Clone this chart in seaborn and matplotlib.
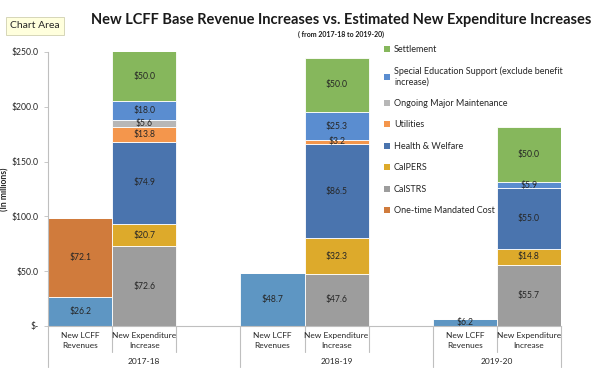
import numpy as np
import pandas as pd
import seaborn as sns
import matplotlib.pyplot as plt
import matplotlib.transforms as mtransforms
from matplotlib.patches import Patch

# data ($ millions)
years = ["2017-18", "2018-19", "2019-20"]
slot_labels = ["New LCFF\nRevenues", "New Expenditure\nIncrease"]

new_lcff = [26.2, 48.7, 6.2]
one_time = [72.1, 0.0, 0.0]

calstrs = [72.6, 47.6, 55.7]
calpers = [20.7, 32.3, 14.8]
health_welfare = [74.9, 86.5, 55.0]
utilities = [13.8, 3.2, 0.0]
maintenance = [5.6, 0.0, 0.0]
special_ed = [18.0, 25.3, 5.9]
settlement = [50.0, 50.0, 50.0]

SPED = "Special Education Support (exclude benefit\nincrease)"
# top of stack first (same as legend order)
components = ["Settlement", SPED, "Ongoing Major Maintenance", "Utilities",
              "Health & Welfare", "CalPERS", "CalSTRS",
              "One-time Mandated Cost", "New LCFF Revenues"]
colors = ["#86B75C", "#5A8DD0", "#B7B7B7", "#F4964C",
          "#4A74AE", "#DDAA2B", "#9D9D9D", "#D07B3C", "#5E96C3"]
palette = dict(zip(components, colors))

revenue_parts = {"New LCFF Revenues": new_lcff, "One-time Mandated Cost": one_time}
expense_parts = {"CalSTRS": calstrs, "CalPERS": calpers, "Health & Welfare": health_welfare,
                 "Utilities": utilities, "Ongoing Major Maintenance": maintenance,
                 SPED: special_ed, "Settlement": settlement}

rows = []
for i, yr in enumerate(years):
    for name, vals in revenue_parts.items():
        rows.append({"slot": 3 * i, "component": name, "value": vals[i]})
    for name, vals in expense_parts.items():
        rows.append({"slot": 3 * i + 1, "component": name, "value": vals[i]})
df = pd.DataFrame(rows)

sns.set_style("white")
plt.rcParams['font.family'] = ['Lato', 'DejaVu Sans']

fig = plt.figure(figsize=(6.15, 3.71), dpi=100)
ax = fig.add_axes([48 / 615, 1 - 326 / 371, 513 / 615, 274 / 371])

sns.histplot(data=df, x="slot", weights="value", hue="component", hue_order=components,
             palette=palette, multiple="stack", discrete=True, shrink=1, alpha=1,
             edgecolor="white", linewidth=0.6, legend=False, ax=ax)

for c in ax.containers:
    labels = [f"${p.get_height():.1f}" if p.get_height() > 0 else "" for p in c]
    ax.bar_label(c, labels=labels, label_type="center", fontsize=6.2, color="#262626")

ax.set_xlim(-0.5, 7.5)
ax.set_ylim(0, 250)
ticks = [0, 50, 100, 150, 200, 250]
ax.set_yticks(ticks)
ax.set_yticklabels(["$-"] + [f"${t:.1f}" for t in ticks[1:]], fontsize=6.2, color="#262626")
ax.tick_params(axis="y", left=True, length=3, width=0.6, color="#BFBFBF", pad=4)
ax.set_xticks([])
ax.set_xlabel("")
ax.set_ylabel("(In millions)", fontsize=6.2, fontweight="bold", color="#262626")
ax.yaxis.set_label_coords(-0.076, 0.5)
sns.despine(ax=ax)
for s in ["left", "bottom"]:
    ax.spines[s].set_color("#BFBFBF")
    ax.spines[s].set_linewidth(0.8)

# two-level category axis
trans = mtransforms.blended_transform_factory(ax.transData, ax.transAxes)
for i, yr in enumerate(years):
    for j, lab in enumerate(slot_labels):
        ax.text(3 * i + j, -0.052, lab, transform=trans, ha="center", va="center",
                fontsize=6, color="#262626", linespacing=1.5)
    n_slots = 3 if i < len(years) - 1 else 2
    ax.text(3 * i + (n_slots - 1) / 2, -0.128, yr, transform=trans, ha="center",
            va="center", fontsize=6, color="#262626")
for b in np.arange(-0.5, 8, 1.0):
    low = -0.15 if b in (-0.5, 2.5, 5.5, 7.5) else -0.095
    ax.plot([b, b], [0, low], transform=trans, color="#BFBFBF", lw=0.8, clip_on=False)

handles = [Patch(facecolor=palette[c], edgecolor="none") for c in components[:-1]]
fig.legend(handles, components[:-1], loc="upper left", bbox_to_anchor=(376 / 615, 1 - 37 / 371),
           frameon=False, fontsize=6.5, handlelength=0.7, handleheight=0.7, handletextpad=0.4,
           labelspacing=1.38, labelcolor="#262626")

fig.text(0.555, 0.945, "New LCFF Base Revenue Increases vs. Estimated New Expenditure Increases",
         ha="center", va="center", fontsize=10.5, fontweight="bold", color="#1a1a1a")
fig.text(0.555, 0.908, "( from 2017-18 to 2019-20)", ha="center", va="center",
         fontsize=5, fontweight="bold", color="#1a1a1a")
fig.text(0.016, 0.93, "Chart Area", ha="left", va="center", fontsize=7.5, color="#262626",
         bbox=dict(boxstyle="square,pad=0.4", fc="#FFFFDD", ec="#D0D0B0", lw=0.6))

fig.savefig("out.png", dpi=100)
